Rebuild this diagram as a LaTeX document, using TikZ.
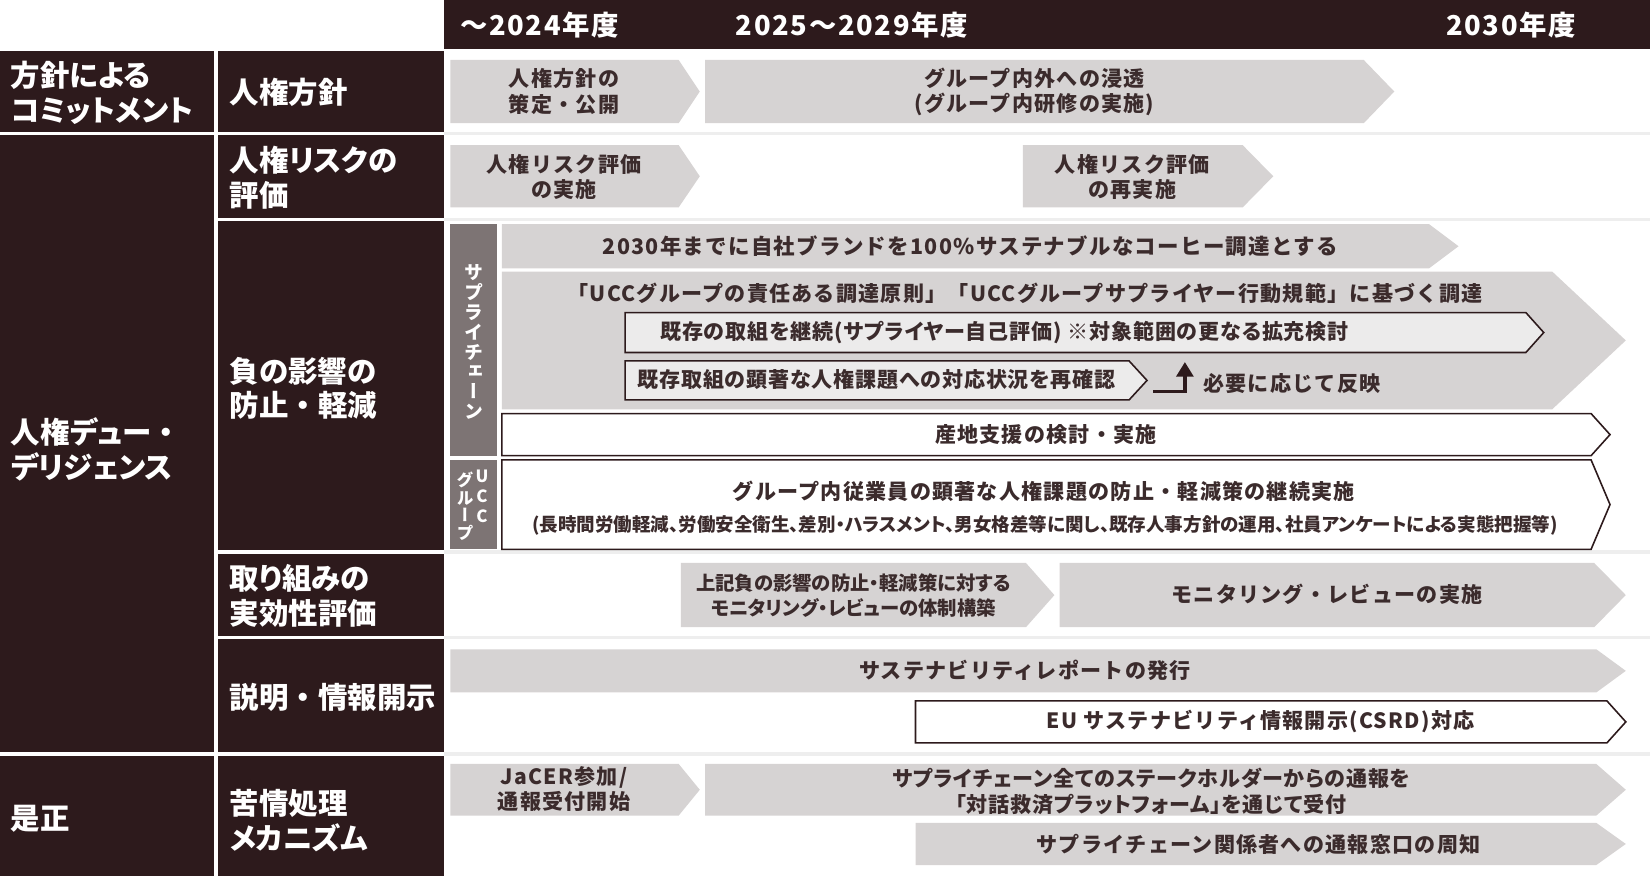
\documentclass[tikz,border=0pt]{standalone}
\usepackage{fontspec}
\setmainfont{Noto Sans CJK JP}[RawFeature=+palt]
\newfontfamily\fwfont{Noto Sans CJK JP}
\newfontfamily\barfont{Noto Sans CJK JP}[LetterSpace=6]
\newfontfamily\tightfont{Noto Sans CJK JP}[RawFeature=+palt,LetterSpace=4]
\newfontfamily\hdfont{Noto Sans CJK JP}[LetterSpace=6]
\newfontfamily\vertfont{Noto Sans CJK JP}[RawFeature=+vert]
\usetikzlibrary{arrows.meta,positioning,calc}

\definecolor{hdark}{HTML}{2D1A1C}
\definecolor{bargray}{HTML}{D6D3D3}
\definecolor{sidegray}{HTML}{7D7474}
\definecolor{innergray}{HTML}{ECEBEB}
\definecolor{bartext}{HTML}{3B2B2C}
\definecolor{sepgray}{HTML}{EEEEEE}

\newcommand{\fdot}{{\fwfont ・}}

\tikzset{
  hdtxt/.style={text=white, font=\hdfont\bfseries\fontsize{13}{15}\selectfont, anchor=west, inner sep=0pt},
  coltxt/.style={text=white, font=\bfseries\fontsize{14}{16.5}\selectfont, align=left, anchor=west, inner sep=0pt},
  sidetxt/.style={text=white, font=\vertfont\bfseries\fontsize{9}{9.4}\selectfont, align=center, inner sep=0pt},
  bartxt/.style={text=bartext, font=\barfont\bfseries\fontsize{10}{12}\selectfont, align=center, inner sep=0pt},
  tighttxt/.style={text=bartext, font=\tightfont\bfseries\fontsize{10}{12}\selectfont, align=center, inner sep=0pt},
  smalltxt/.style={text=bartext, font=\bfseries\fontsize{8.8}{10}\selectfont, align=center, inner sep=0pt},
  graybar/.style={fill=bargray},
  linebar/.style={draw=hdark, line width=0.75pt, fill=white},
  innerbar/.style={draw=hdark, line width=0.75pt, fill=innergray},
  sepline/.style={sepgray, line width=1.5pt}
}

% chevron: [style] x-left, y-top, x-body-end, x-tip, y-bottom
\newcommand{\barchev}[6][graybar]{%
  \path[#1] (#2,#3) -- (#4,#3) -- (#5,{0.5*(#3+#6)}) -- (#4,#6) -- (#2,#6) -- cycle;}

\begin{document}
\begin{tikzpicture}[x=0.5pt,y=-0.5pt]
\useasboundingbox (0,0) rectangle (1568,832);

% header band
\fill[hdark] (422,0) rectangle (1568,47);
\node (hdA) [hdtxt] at (437,24) {～2024年度};
\node (hdB) [hdtxt] at (699,24) {2025～2029年度};
\node (hdC) [hdtxt] at (1374,24) {2030年度};

% left columns
\fill[hdark] (0,48) rectangle (203,125);
\fill[hdark] (0,128) rectangle (203,715);
\fill[hdark] (0,718) rectangle (203,832);
\fill[hdark] (207,48) rectangle (422,125);
\fill[hdark] (207,128) rectangle (422,207);
\fill[hdark] (207,210) rectangle (422,523);
\fill[hdark] (207,526) rectangle (422,604);
\fill[hdark] (207,607) rectangle (422,715);
\fill[hdark] (207,718) rectangle (422,832);

\node (colCommit) [coltxt] at (10,88) {方針による\\コミットメント};
\node (colDD) [coltxt] at (10,427) {人権デュー\fdot\\デリジェンス};
\node (colFix) [coltxt] at (10,778) {是正};

\node (subPolicy) [coltxt] at (218,88) {人権方針};
\node (subRisk) [coltxt] at (218,169) {人権リスクの\\評価};
\node (subPrev) [coltxt] at (218,369) {負の影響の\\防止\fdot 軽減};
\node (subEval) [coltxt] at (218,566) {取り組みの\\実効性評価};
\node (subDisc) [coltxt] at (218,663) {説明\fdot 情報開示};
\node (subGriev) [coltxt] at (218,780) {苦情処理\\メカニズム};

% row separators
\draw[sepline] (422,126.5) -- (1568,126.5);
\draw[sepline] (422,208.5) -- (1568,208.5);
\draw[sepline] (422,524.5) -- (1568,524.5);
\draw[sepline] (422,605.5) -- (1568,605.5);
\draw[sepline] (422,716.5) -- (1568,716.5);

% policy
\barchev{428}{57}{645}{665}{117}
\node (polA) [bartxt] at (536,87) {人権方針の\\策定・公開};
\barchev{670}{57}{1296}{1325}{117}
\node (polB) [bartxt] at (983,87) {グループ内外への浸透\\(グループ内研修の実施)};

% risk assessment
\barchev{428}{138}{645}{665}{197}
\node (riskA) [bartxt] at (536,168) {人権リスク評価\\の実施};
\barchev{972}{138}{1181}{1210}{197}
\node (riskB) [bartxt] at (1076,168) {人権リスク評価\\の再実施};

% prevention, supply chain
\fill[sidegray] (428,213) rectangle (472,433);
\node (sideSC) [sidetxt] at (450,325) {サ\\プ\\ラ\\イ\\チ\\ェ\\ー\\ン};
\fill[sidegray] (428,437) rectangle (472,522);
\node (sideUCC) [sidetxt, font=\vertfont\bfseries\fontsize{8}{9.5}\selectfont] at (458,472) {U\\C\\C};
\node (sideGrp) [sidetxt, font=\vertfont\bfseries\fontsize{8}{8.5}\selectfont] at (442,481) {グ\\ル\\ー\\プ};

\barchev{477}{213}{1358}{1386}{255}
\node (sc2030) [bartxt, font=\barfont\bfseries\fontsize{10.2}{12}\selectfont] at (922,234) {2030年までに自社ブランドを100\%サステナブルなコーヒー調達とする};
\barchev{477}{258}{1475}{1545}{389}
\node (scProc) [bartxt] at (974,279) {「UCCグループの責任ある調達原則」「UCCグループサプライヤー行動規範」に基づく調達};
\barchev[innerbar]{594}{297}{1450}{1467}{335}
\node (scSelf) [tighttxt, anchor=west] at (627,316) {既存の取組を継続(サプライヤー自己評価) ※対象範囲の更なる拡充検討};
\barchev[innerbar]{594}{343}{1073}{1090}{380}
\node (scCheck) [tighttxt] at (833,361) {既存取組の顕著な人権課題への対応状況を再確認};
\coordinate (rfFrom) at (1096,372);
\coordinate (rfTo) at (1126,344);
\draw[hdark, line width=1.75pt, -{Triangle[width=8pt,length=7pt]}] (rfFrom) -| (rfTo);
\node (scReflect) [bartxt, anchor=west] at (1143,364) {必要に応じて反映};
\barchev[linebar]{477}{393}{1512}{1530}{433}
\node (scOrigin) [bartxt] at (994,413) {産地支援の検討・実施};

% prevention, UCC group
\barchev[linebar]{477}{437}{1512}{1530}{522}
\node (grpEmp) [bartxt] at (992,467) {グループ内従業員の顕著な人権課題の防止・軽減策の継続実施};
\node (grpDetail) [smalltxt] at (993,499) {(長時間労働軽減、労働安全衛生、差別・ハラスメント、男女格差等に関し、既存人事方針の運用、社員アンケートによる実態把握等)};

% effectiveness
\barchev{647}{535}{975}{1002}{596}
\node (evBuild) [tighttxt, font=\bfseries\fontsize{9.2}{12}\selectfont] at (811,566) {上記負の影響の防止・軽減策に対する\\モニタリング・レビューの体制構築};
\barchev{1007}{535}{1515}{1545}{596}
\node (evRun) [bartxt] at (1261,565) {モニタリング・レビューの実施};

% disclosure
\barchev{428}{617}{1517}{1545}{658}
\node (discRep) [bartxt] at (974,637) {サステナビリティレポートの発行};
\barchev[linebar]{870}{666}{1527}{1545}{706}
\node (discEU) [bartxt] at (1198,686) {EU サステナビリティ情報開示(CSRD)対応};

% grievance
\barchev{428}{726}{645}{665}{775}
\node (grvJacer) [bartxt] at (536,750) {JaCER参加/\\通報受付開始};
\barchev{670}{726}{1517}{1545}{775}
\node (grvPlat) [tighttxt] at (1094,752) {サプライチェーン全てのステークホルダーからの通報を\\「対話救済プラットフォーム」を通じて受付};
\barchev{870}{782}{1517}{1545}{822}
\node (grvNotice) [bartxt] at (1196,802) {サプライチェーン関係者への通報窓口の周知};

\end{tikzpicture}
\end{document}
